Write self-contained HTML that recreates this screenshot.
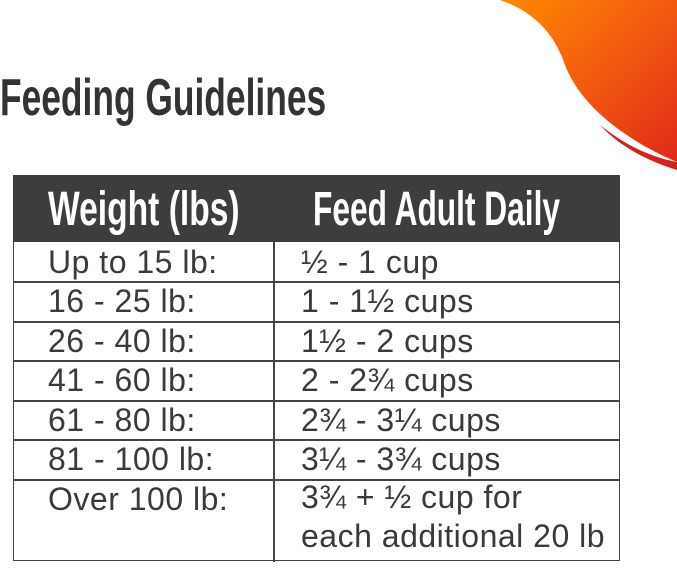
<!DOCTYPE html>
<html><head><style>
body{margin:0;width:677px;height:568px;background:#fff;position:relative;overflow:hidden;font-family:"Liberation Sans",sans-serif;}
.t{position:absolute;white-space:nowrap;}
.cond{font-weight:bold;transform-origin:0 0;transform:scaleX(0.72);}
.row{position:absolute;left:48px;font-size:32px;letter-spacing:0.5px;color:#3a3a3a;white-space:nowrap;}
.row2{position:absolute;left:301px;font-size:32px;letter-spacing:0.5px;color:#3a3a3a;white-space:nowrap;}
.h{position:absolute;left:13px;height:1.8px;width:607px;background:#444;}
</style></head><body>
<svg width="677" height="568" style="position:absolute;left:0;top:0">
<defs><linearGradient id="g" x1="0" y1="0" x2="1" y2="1">
<stop offset="0" stop-color="#ff8a00"/><stop offset="0.5" stop-color="#f25a10"/><stop offset="1" stop-color="#e02a1a"/></linearGradient></defs>
<path d="M500 0 C535 12 555 35 565 65 C580 105 625 140 677 162 L677 0 Z" fill="url(#g)"/>
<path d="M600 125 C625 145 650 157 677 162 L677 170 C645 160 618 145 600 125Z" fill="#d8201a"/>
</svg>
<div class="t cond" style="left:0;top:68px;font-size:52px;color:#333;transform:scaleX(0.68);">Feeding Guidelines</div>
<div style="position:absolute;left:13px;top:175px;width:607px;height:67px;background:#3d3d3d;"></div>
<div class="t cond" style="left:48px;top:182px;font-size:48px;color:#fff;transform:scaleX(0.70);">Weight (lbs)</div>
<div class="t cond" style="left:313px;top:182px;font-size:48px;color:#fff;transform:scaleX(0.66);">Feed Adult Daily</div>
<div style="position:absolute;left:13px;top:242px;width:605px;height:318px;border:1.8px solid #444;border-top:none;"></div>
<div style="position:absolute;left:273px;top:242px;width:1.8px;height:320px;background:#444;"></div>
<div class="h" style="top:281px"></div>
<div class="h" style="top:321px"></div>
<div class="h" style="top:360px"></div>
<div class="h" style="top:400px"></div>
<div class="h" style="top:439px"></div>
<div class="h" style="top:479px"></div>
<div class="row" style="top:244px">Up to 15 lb:</div><div class="row2" style="top:244px">½ - 1 cup</div>
<div class="row" style="top:283px">16 - 25 lb:</div><div class="row2" style="top:283px">1 - 1½ cups</div>
<div class="row" style="top:323px">26 - 40 lb:</div><div class="row2" style="top:323px">1½ - 2 cups</div>
<div class="row" style="top:362px">41 - 60 lb:</div><div class="row2" style="top:362px">2 - 2¾ cups</div>
<div class="row" style="top:402px">61 - 80 lb:</div><div class="row2" style="top:402px">2¾ - 3¼ cups</div>
<div class="row" style="top:441px">81 - 100 lb:</div><div class="row2" style="top:441px">3¼ - 3¾ cups</div>
<div class="row" style="top:481px">Over 100 lb:</div><div class="row2" style="top:481px;line-height:39px;margin-top:-3px">3¾ + ½ cup for<br>each additional 20 lb</div>
</body></html>
